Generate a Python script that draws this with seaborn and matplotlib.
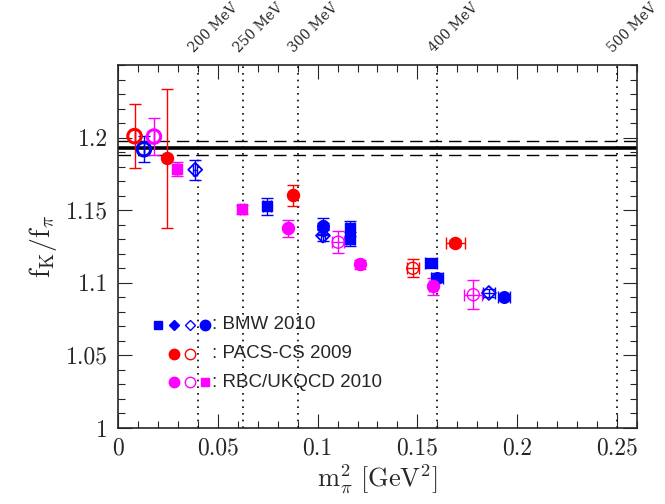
import numpy as np
import pandas as pd
import matplotlib
matplotlib.use("Agg")
import matplotlib.pyplot as plt
import matplotlib.ticker as mticker
import seaborn as sns

# --- data: x = m_pi^2 [GeV^2], y = fK/fpi ---
# BMW 2010
bmw_sq_x = [0.0746, 0.1162, 0.1162, 0.1566]
bmw_sq_y = [1.1527, 1.1375, 1.1303, 1.1135]
bmw_sq_xe = [0.002, 0.002, 0.002, 0.003]
bmw_sq_ye = [0.0057, 0.005, 0.005, 0.002]

bmw_dia_x = [0.1027]
bmw_dia_y = [1.1370]
bmw_dia_xe = [0.001]
bmw_dia_ye = [0.004]

bmw_odia_x = [0.0387, 0.1027, 0.1858]
bmw_odia_y = [1.1779, 1.1325, 1.0930]
bmw_odia_xe = [0.001, 0.001, 0.003]
bmw_odia_ye = [0.0068, 0.004, 0.003]

bmw_circ_x = [0.1027, 0.1600, 0.1932]
bmw_circ_y = [1.1390, 1.1036, 1.0900]
bmw_circ_xe = [0.001, 0.003, 0.003]
bmw_circ_ye = [0.0055, 0.003, 0.002]

bmw_ocirc_x = [0.0130]
bmw_ocirc_y = [1.1920]
bmw_ocirc_ye = [0.009]

# PACS-CS 2009
pacs_circ_x = [0.0244, 0.0876, 0.1690]
pacs_circ_y = [1.1858, 1.1603, 1.1276]
pacs_circ_xe = [0.0, 0.001, 0.0049]
pacs_circ_ye = [0.048, 0.0074, 0.002]

pacs_ocirc_x = [0.0083, 0.1477]
pacs_ocirc_y = [1.2010, 1.1100]
pacs_ocirc_xe = [0.0, 0.003]
pacs_ocirc_ye = [0.022, 0.0063]

# RBC/UKQCD 2010
rbc_circ_x = [0.0850, 0.1210, 0.1580]
rbc_circ_y = [1.1375, 1.1128, 1.0975]
rbc_circ_xe = [0.001, 0.001, 0.002]
rbc_circ_ye = [0.0058, 0.003, 0.006]

rbc_ocirc_x = [0.0180, 0.1103, 0.1780]
rbc_ocirc_y = [1.2007, 1.1280, 1.0918]
rbc_ocirc_xe = [0.0, 0.003, 0.0046]
rbc_ocirc_ye = [0.013, 0.0077, 0.0099]

rbc_sq_x = [0.0297, 0.0623]
rbc_sq_y = [1.1783, 1.1505]
rbc_sq_xe = [0.001, 0.001]
rbc_sq_ye = [0.0048, 0.003]

# world average band
avg = 1.193
avg_err = 0.005

# pion mass lines
mev = [200, 250, 300, 400, 500]
mev_x = [0.04, 0.0625, 0.09, 0.16, 0.25]

legend_rows = [": BMW 2010", ": PACS-CS 2009", ": RBC/UKQCD 2010"]

BLUE, RED, MAG = "#0000ff", "#ff0000", "#ff00ff"

sns.set_style("ticks")
plt.rcParams["font.family"] = ["cmr10", "DejaVu Serif"]
plt.rcParams["mathtext.fontset"] = "cm"
plt.rcParams["axes.formatter.use_mathtext"] = True

fig = plt.figure(figsize=(6.65, 5.04), dpi=100)
ax = fig.add_axes([0.1774, 0.1508, 0.7805, 0.7202])

series = [
    (bmw_sq_x, bmw_sq_y, bmw_sq_xe, bmw_sq_ye, BLUE, "s", True, 45, 1.0),
    (bmw_circ_x, bmw_circ_y, bmw_circ_xe, bmw_circ_ye, BLUE, "o", True, 70, 1.0),
    (bmw_dia_x, bmw_dia_y, bmw_dia_xe, bmw_dia_ye, BLUE, "D", True, 35, 1.0),
    (bmw_odia_x, bmw_odia_y, bmw_odia_xe, bmw_odia_ye, BLUE, "D", False, 50, 1.3),
    (bmw_ocirc_x, bmw_ocirc_y, [0.0], bmw_ocirc_ye, BLUE, "o", False, 95, 2.2),
    (pacs_circ_x, pacs_circ_y, pacs_circ_xe, pacs_circ_ye, RED, "o", True, 75, 1.0),
    (pacs_ocirc_x[:1], pacs_ocirc_y[:1], pacs_ocirc_xe[:1], pacs_ocirc_ye[:1], RED, "o", False, 95, 2.2),
    (pacs_ocirc_x[1:], pacs_ocirc_y[1:], pacs_ocirc_xe[1:], pacs_ocirc_ye[1:], RED, "o", False, 75, 1.0),
    (rbc_circ_x, rbc_circ_y, rbc_circ_xe, rbc_circ_ye, MAG, "o", True, 75, 1.0),
    (rbc_ocirc_x[:1], rbc_ocirc_y[:1], rbc_ocirc_xe[:1], rbc_ocirc_ye[:1], MAG, "o", False, 95, 2.2),
    (rbc_ocirc_x[1:], rbc_ocirc_y[1:], rbc_ocirc_xe[1:], rbc_ocirc_ye[1:], MAG, "o", False, 75, 1.0),
    (rbc_sq_x, rbc_sq_y, rbc_sq_xe, rbc_sq_ye, MAG, "s", True, 45, 1.0),
]

# reference lines
for xv in mev_x:
    ax.axvline(xv, color="black", ls=(0, (1, 3)), lw=1.2, zorder=1)
ax.axhline(avg, color="black", lw=2.6, zorder=1)
for yv in (avg - avg_err, avg + avg_err):
    ax.axhline(yv, color="black", lw=1.0, ls=(0, (9, 5)), zorder=1)

for xs, ys, xe, ye, col, mk, filled, size, lw in series:
    ax.errorbar(xs, ys, xerr=xe, yerr=ye, fmt="none", ecolor=col,
                elinewidth=1.0, capsize=4, capthick=1.0, zorder=2)
    df = pd.DataFrame({"x": xs, "y": ys})
    sns.scatterplot(data=df, x="x", y="y", ax=ax, marker=mk, s=size,
                    facecolor=col if filled else "none", edgecolor=col,
                    linewidth=lw, zorder=3, legend=False)

ax.set_xlim(0, 0.26)
ax.set_ylim(1.0, 1.25)
ax.xaxis.set_major_locator(mticker.MultipleLocator(0.05))
ax.xaxis.set_minor_locator(mticker.MultipleLocator(0.01))
ax.yaxis.set_major_locator(mticker.FixedLocator([1.0, 1.05, 1.1, 1.15, 1.2]))
ax.yaxis.set_minor_locator(mticker.MultipleLocator(0.01))
fmt = mticker.FuncFormatter(lambda v, p: "%g" % round(v, 3))
ax.xaxis.set_major_formatter(fmt)
ax.yaxis.set_major_formatter(fmt)
ax.tick_params(which="both", direction="in", top=True, right=True, width=0.8)
ax.tick_params(which="major", length=10, labelsize=17, pad=7)
ax.tick_params(which="minor", length=5)
for sp in ax.spines.values():
    sp.set_linewidth(1.2)

ax.set_xlabel(r"$\mathrm{m}_\pi^2\ [\mathrm{GeV}^2]$", fontsize=19, labelpad=2)
ax.set_ylabel(r"$\mathrm{f}_\mathrm{K}/\mathrm{f}_\pi$", fontsize=20, labelpad=5)

# MeV labels on top
for m, xv in zip(mev, mev_x):
    ax.text(xv - 0.0008, 1.0 + 0.026, f"{m} MeV", transform=ax.get_xaxis_transform(),
            rotation=45, rotation_mode="anchor", ha="left", va="bottom",
            fontsize=10, family=["DejaVu Serif"])

# hand-made key
tr = ax.transAxes
row_y = [0.284, 0.204, 0.126]
ax.plot([0.077], [row_y[0]], "s", ms=6, color=BLUE, transform=tr)
ax.plot([0.107], [row_y[0]], "D", ms=5.5, color=BLUE, transform=tr)
ax.plot([0.138], [row_y[0]], "D", ms=5.5, mfc="none", mec=BLUE, mew=1.0, transform=tr)
ax.plot([0.168], [row_y[0]], "o", ms=7.5, color=BLUE, transform=tr)
ax.plot([0.107], [row_y[1]], "o", ms=7.5, color=RED, transform=tr)
ax.plot([0.138], [row_y[1]], "o", ms=7.5, mfc="none", mec=RED, mew=1.0, transform=tr)
ax.plot([0.107], [row_y[2]], "o", ms=7.5, color=MAG, transform=tr)
ax.plot([0.138], [row_y[2]], "o", ms=7.5, mfc="none", mec=MAG, mew=1.0, transform=tr)
ax.plot([0.168], [row_y[2]], "s", ms=6, color=MAG, transform=tr)
for yv, txt in zip(row_y, legend_rows):
    ax.text(0.182, yv, txt, transform=tr, va="center", ha="left",
            fontsize=13.5, family=["Liberation Sans"])

fig.savefig("out.png", dpi=100)
